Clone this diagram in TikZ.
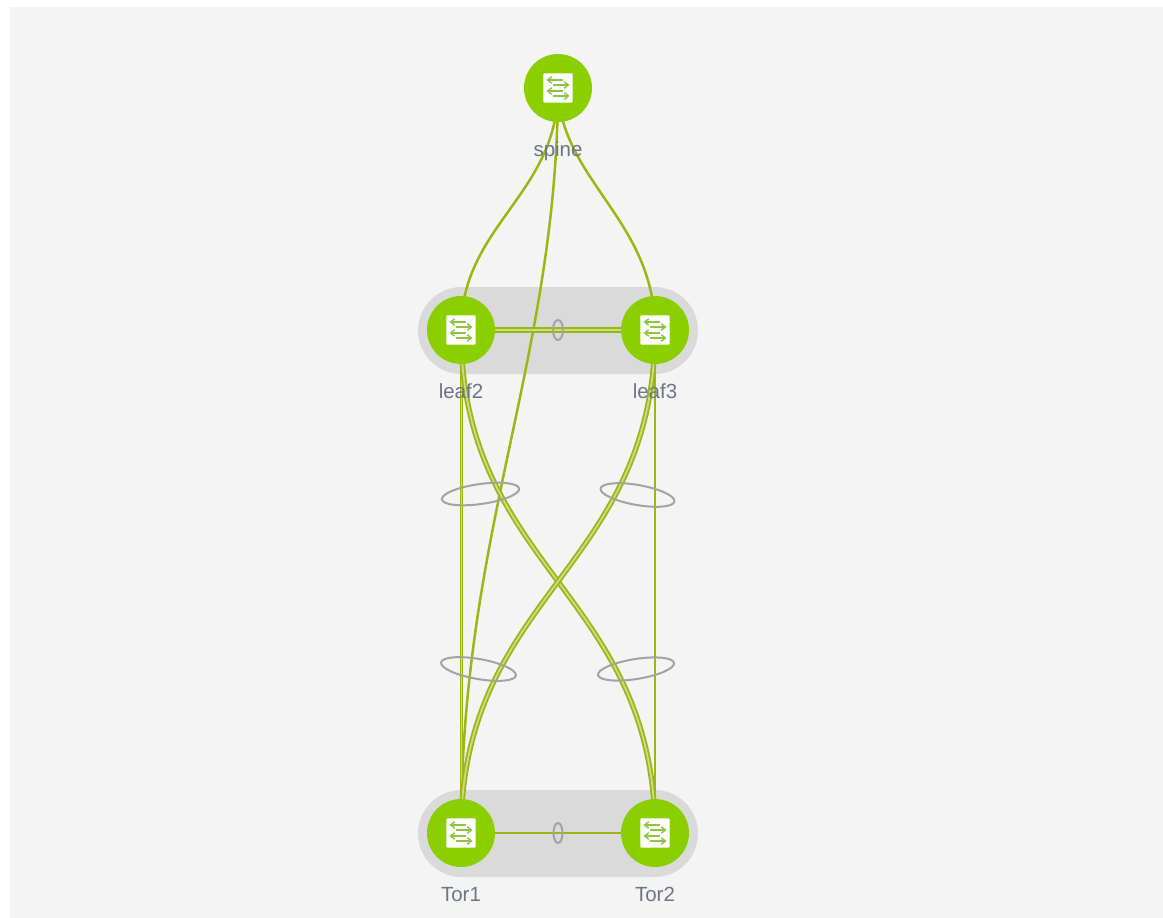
\documentclass[tikz,border=0pt]{standalone}
\usepackage{fontspec}
\setmainfont{Liberation Sans}
\usetikzlibrary{arrows.meta}
\pgfdeclarelayer{paper}
\pgfdeclarelayer{links}
\pgfdeclarelayer{pills}
\pgfsetlayers{paper,pills,links,main}
\definecolor{bgc}{HTML}{F4F4F4}
\definecolor{pillc}{HTML}{DADADA}
\definecolor{greenc}{HTML}{8BCF00}
\definecolor{linkc}{HTML}{9AB814}
\definecolor{linkin}{HTML}{CBDB85}
\definecolor{lagc}{HTML}{A3A3A3}
\definecolor{labc}{HTML}{6E7587}
\definecolor{iconc}{HTML}{8CC63F}
\tikzset{
  sw/.style={circle,fill=greenc,minimum size=68pt,inner sep=0pt},
  lab/.style={text=labc,font=\fontsize{20.5}{21}\selectfont,inner sep=0pt,anchor=base},
  pill/.style={fill=pillc,rounded corners=43.5pt},
  one/.style={draw=linkc,line width=2.5pt},
  two/.style={draw=linkc,double=linkin,double distance=1.8pt,line width=1.8pt},
  thin two/.style={draw=linkc,double=linkin,double distance=0.8pt,line width=1.3pt},
  lag/.style={draw=lagc,line width=2pt},
  icon/.pic={
    \fill[white,rounded corners=1pt] (-14.7,-14.7) rectangle (14.7,14.7);
    \begin{scope}[draw=iconc,line width=1.5pt,-{Straight Barb[length=4pt,width=6.5pt]}]
      \draw (5,-8) -- (-11.5,-8);
      \draw (-5,-3) -- (11.5,-3);
      \draw (5,3) -- (-11.5,3);
      \draw (-5,8) -- (11.5,8);
    \end{scope}
  }
}
\begin{document}
\begin{tikzpicture}[x=1pt,y=-1pt]
\useasboundingbox (0,0) rectangle (1163,918);
\begin{pgfonlayer}{paper}
\fill[bgc] (10,7) rectangle (1163,918);
\end{pgfonlayer}

\node[sw] (spine) at (558,88) {};
\node[sw] (leaf2) at (461,330) {};
\node[sw] (leaf3) at (655,330) {};
\node[sw] (tor1) at (461,833) {};
\node[sw] (tor2) at (655,833) {};
\foreach \n in {spine,leaf2,leaf3,tor1,tor2} \pic at (\n.center) {icon};

\begin{pgfonlayer}{pills}
\path[pill] (418,287) rectangle (698,374);
\path[pill] (418,790) rectangle (698,877);
\end{pgfonlayer}

\begin{pgfonlayer}{links}
\draw[one] (spine.center) .. controls (558,195) and (461,225) .. (leaf2.center);
\draw[one] (spine.center) .. controls (560,180) and (655,220) .. (leaf3.center);
\draw[one] (spine.center) .. controls (557,360) and (461,530) .. (tor1.center);
\draw[two] (leaf2.center) -- (leaf3.center);
\draw[one] (tor1.center) -- (tor2.center);
\draw[thin two] ([xshift=0.7pt]leaf2.center) -- ([xshift=0.7pt]tor1.center);
\draw[one,line width=2.8pt] (leaf3.center) -- (tor2.center);
\draw[two] (leaf2.center) .. controls (461,570) and (655,593) .. (tor2.center);
\draw[two] (leaf3.center) .. controls (655,570) and (461,593) .. (tor1.center);
\end{pgfonlayer}

\draw[lag] (558,330) ellipse [x radius=5,y radius=10];
\draw[lag] (558,833) ellipse [x radius=4.5,y radius=10];
\draw[lag,rotate around={8:(480.5,494)}] (480.5,494) ellipse [x radius=39,y radius=10];
\draw[lag,rotate around={-10:(637.5,495)}] (637.5,495) ellipse [x radius=37.5,y radius=10];
\draw[lag,rotate around={-10:(478.5,669)}] (478.5,669) ellipse [x radius=38,y radius=10];
\draw[lag,rotate around={9:(636,669)}] (636,669) ellipse [x radius=38.5,y radius=10];

\node[lab] (lspine) at (558,156) {spine};
\node[lab] (lleaf2) at (461,398) {leaf2};
\node[lab] (lleaf3) at (655,398) {leaf3};
\node[lab] (ltor1) at (461,901) {Tor1};
\node[lab] (ltor2) at (655,901) {Tor2};
\end{tikzpicture}
\end{document}
